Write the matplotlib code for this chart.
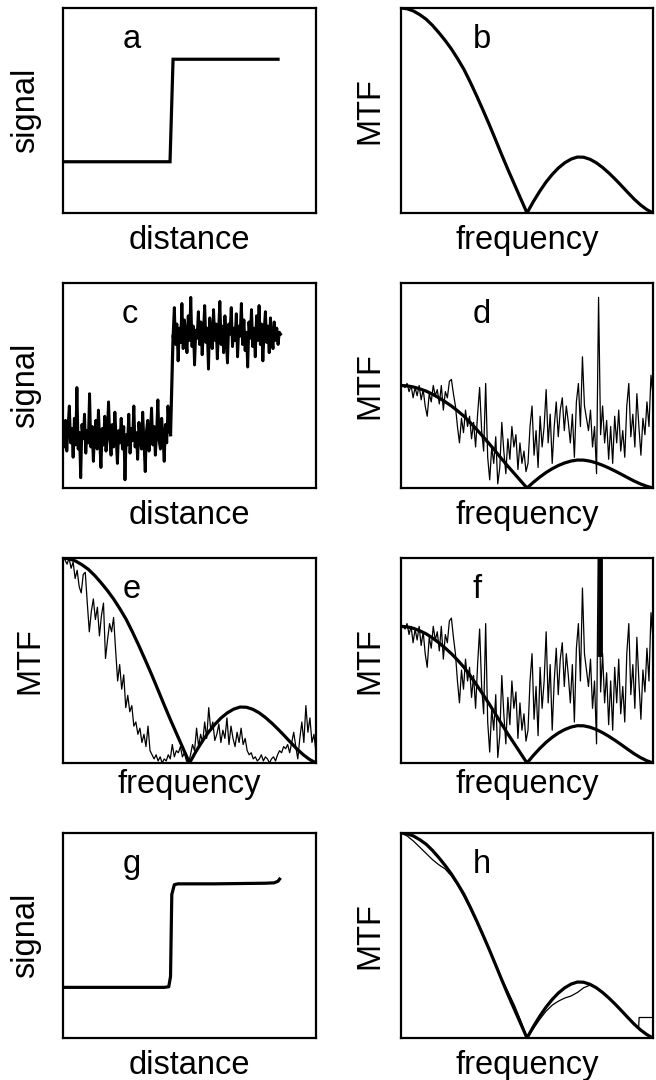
import numpy as np
import matplotlib
matplotlib.use("Agg")
import matplotlib.pyplot as plt

plt.rcParams['font.family'] = ['Liberation Sans', 'DejaVu Sans']

# ideal MTF (thick curve), read every 0.025 along frequency
freq_ideal = np.linspace(0, 1, 41)
mtf_ideal = [1.000, 0.996, 0.985, 0.967, 0.945, 0.915, 0.880, 0.842, 0.800, 0.752,
             0.700, 0.638, 0.572, 0.503, 0.432, 0.358, 0.283, 0.210, 0.140, 0.070,
             0.000, 0.055, 0.105, 0.150, 0.188, 0.220, 0.245, 0.263, 0.273, 0.272,
             0.262, 0.245, 0.222, 0.195, 0.165, 0.133, 0.100, 0.068, 0.040, 0.017,
             0.000]

# h: recovered MTF (thin curve)
freq_recovered = [0.000, 0.025, 0.050, 0.075, 0.100, 0.125, 0.150, 0.175, 0.200, 0.225,
                  0.250, 0.275, 0.300, 0.325, 0.350, 0.375, 0.400, 0.425, 0.450, 0.475,
                  0.500, 0.525, 0.550, 0.575, 0.600, 0.625, 0.650, 0.675, 0.700, 0.725,
                  0.750, 0.775, 0.800, 0.825, 0.850, 0.875, 0.900, 0.925, 0.943, 0.945,
                  1.000]
mtf_recovered = [1.000, 0.985, 0.960, 0.930, 0.900, 0.870, 0.845, 0.825, 0.790, 0.745,
                 0.690, 0.630, 0.565, 0.497, 0.430, 0.360, 0.290, 0.225, 0.160, 0.085,
                 0.000, 0.045, 0.090, 0.130, 0.160, 0.180, 0.195, 0.205, 0.222, 0.245,
                 0.258, 0.245, 0.222, 0.195, 0.165, 0.133, 0.100, 0.068, 0.048, 0.100,
                 0.100]

# a: clean edge profile
edge_x = [0.0, 0.423, 0.435, 0.85]
edge_y = [0.25, 0.25, 0.75, 0.75]

# g: restored edge profile
edge_g_x = [0.0, 0.40, 0.418, 0.425, 0.430, 0.440, 0.455, 0.60, 0.80, 0.835, 0.850, 0.856]
edge_g_y = [0.247, 0.247, 0.250, 0.30, 0.70, 0.748, 0.752, 0.752, 0.755, 0.757, 0.765, 0.775]

# c: noisy edge, low and high plateaus
noisy_low = [0.26, 0.20, 0.33, 0.18, 0.30, 0.40, 0.22, 0.29, 0.15, 0.34,
             0.21, 0.49, 0.19, 0.27, 0.05, 0.31, 0.24, 0.36, 0.17, 0.28,
             0.22, 0.46, 0.20, 0.30, 0.13, 0.27, 0.33, 0.19, 0.38, 0.23,
             0.10, 0.29, 0.21, 0.35, 0.18, 0.26, 0.42, 0.24, 0.16, 0.31,
             0.20, 0.37, 0.25, 0.12, 0.28, 0.22, 0.34, 0.19, 0.30, 0.04,
             0.26, 0.21, 0.36, 0.17, 0.29, 0.23, 0.40, 0.20, 0.27, 0.14,
             0.32, 0.24, 0.19, 0.37, 0.22, 0.08, 0.28, 0.33, 0.18, 0.26,
             0.39, 0.21, 0.30, 0.16, 0.27, 0.43, 0.23, 0.19, 0.34, 0.25,
             0.13, 0.31, 0.22, 0.40, 0.28, 0.26]
noisy_high = [0.74, 0.88, 0.70, 0.80, 0.62, 0.78, 0.71, 0.90, 0.68, 0.82,
              0.75, 0.66, 0.84, 0.72, 0.93, 0.69, 0.79, 0.60, 0.77, 0.73,
              0.86, 0.70, 0.81, 0.65, 0.76, 0.89, 0.71, 0.78, 0.58, 0.83,
              0.74, 0.68, 0.87, 0.72, 0.80, 0.63, 0.77, 0.91, 0.70, 0.79,
              0.66, 0.84, 0.73, 0.61, 0.80, 0.75, 0.88, 0.69, 0.78, 0.72,
              0.85, 0.64, 0.79, 0.74, 0.90, 0.70, 0.82, 0.67, 0.76, 0.59,
              0.81, 0.73, 0.87, 0.69, 0.78, 0.64, 0.84, 0.72, 0.89, 0.70,
              0.80, 0.62, 0.77, 0.86, 0.71, 0.79, 0.66, 0.83, 0.74, 0.68,
              0.81, 0.72, 0.78, 0.70, 0.76, 0.75]
noisy_low_x = np.linspace(0.0, 0.425, len(noisy_low))
noisy_high_x = np.linspace(0.435, 0.86, len(noisy_high))

# d / f: MTF measured from the noisy edge
freq_noisy = np.linspace(0, 1, 126)
mtf_noisy = [1.00, 1.00, 0.98, 1.02, 0.94, 1.00, 0.88, 0.98, 0.90, 1.00,
             0.86, 0.96, 0.80, 0.70, 0.92, 0.84, 1.00, 0.90, 0.96, 0.82,
             1.00, 0.76, 0.94, 0.88, 1.04, 1.06, 0.92, 0.80, 0.60, 0.44,
             0.68, 0.54, 0.76, 0.60, 0.70, 0.48, 0.64, 0.40, 0.72, 0.98,
             0.56, 0.36, 1.02, 0.30, 0.08, 0.40, 0.24, 0.50, 0.04, 0.20,
             0.64, 0.36, 0.14, 0.48, 0.28, 0.60, 0.40, 0.52, 0.18, 0.44,
             0.24, 0.36, 0.16, 0.24, 0.60, 0.80, 0.32, 0.56, 0.20, 0.70,
             0.40, 0.60, 0.96, 0.44, 0.72, 0.24, 0.60, 0.84, 0.50, 0.76,
             0.88, 0.56, 0.80, 0.64, 0.44, 0.72, 0.30, 0.84, 1.02, 0.60,
             1.28, 0.80, 0.68, 0.56, 0.76, 0.40, 0.60, 0.14, 1.86, 0.52,
             0.80, 0.44, 0.66, 0.28, 0.60, 0.24, 0.70, 0.44, 0.76, 0.36,
             0.56, 0.30, 0.80, 1.02, 0.50, 0.72, 0.40, 0.92, 0.60, 0.32,
             0.68, 0.52, 0.84, 0.60, 1.10, 0.90]
spike_f_x = [0.788, 0.788]
spike_f_y = [0.80, 1.90]

# e: MTF after smoothing
mtf_smoothed = [1.00, 0.99, 0.97, 1.00, 0.95, 0.98, 0.90, 0.94, 0.86, 0.83,
                0.92, 0.93, 0.78, 0.64, 0.74, 0.80, 0.70, 0.76, 0.62, 0.72,
                0.78, 0.51, 0.60, 0.68, 0.64, 0.71, 0.55, 0.40, 0.48, 0.36,
                0.43, 0.27, 0.33, 0.25, 0.28, 0.18, 0.20, 0.14, 0.17, 0.10,
                0.14, 0.08, 0.18, 0.06, 0.04, 0.02, 0.04, 0.01, 0.03, 0.00,
                0.02, 0.01, 0.04, 0.02, 0.09, 0.03, 0.06, 0.05, 0.08, 0.03,
                0.05, 0.01, 0.00, 0.04, 0.09, 0.06, 0.17, 0.08, 0.14, 0.10,
                0.20, 0.12, 0.27, 0.16, 0.20, 0.11, 0.14, 0.19, 0.10, 0.16,
                0.12, 0.22, 0.09, 0.18, 0.12, 0.08, 0.15, 0.10, 0.17, 0.09,
                0.12, 0.06, 0.04, 0.05, 0.02, 0.03, 0.01, 0.02, 0.04, 0.01,
                0.03, 0.02, 0.00, 0.02, 0.03, 0.01, 0.04, 0.06, 0.05, 0.08,
                0.07, 0.09, 0.05, 0.10, 0.15, 0.08, 0.02, 0.12, 0.20, 0.10,
                0.28, 0.15, 0.22, 0.10, 0.14, 0.05]

W, H = 656, 1080
FS = 23.5
THICK = 2.3
THIN = 0.9

fig = plt.figure(figsize=(W / 100, H / 100), dpi=100)


def make_axes(col, row):
    left = 63 if col == 0 else 401
    width = 253 if col == 0 else 252
    top = 8 + 275 * row
    height = 205
    ax = fig.add_axes([left / W, 1 - (top + height) / H, width / W, height / H])
    ax.set_xlim(0, 1)
    ax.set_ylim(0, 1)
    ax.set_xticks([])
    ax.set_yticks([])
    for s in ax.spines.values():
        s.set_linewidth(1.6)
    return ax


def decorate(ax, letter, xlab, ylab, lx, ylab_off, xlab_off=36):
    ax.text(lx, 0.805, letter, transform=ax.transAxes, fontsize=FS,
            ha='center', va='baseline')
    ax.text(0.5, -xlab_off / 205, xlab, transform=ax.transAxes, fontsize=FS,
            ha='center', va='baseline')
    ax.text(-ylab_off, 0.5, ylab, transform=ax.transAxes, fontsize=FS,
            ha='center', va='center', rotation=90)


# a
ax = make_axes(0, 0)
ax.plot(edge_x, edge_y, color='black', lw=THICK, solid_joinstyle='miter')
decorate(ax, 'a', 'distance', 'signal', 0.27, 37 / 253)

# b
ax = make_axes(1, 0)
ax.plot(freq_ideal, mtf_ideal, color='black', lw=THICK)
decorate(ax, 'b', 'frequency', 'MTF', 0.32, 31 / 252)

# c
ax = make_axes(0, 1)
ax.plot(noisy_low_x, noisy_low, color='black', lw=2.1)
ax.plot([0.425, 0.43, 0.435], [noisy_low[-1], 0.5, noisy_high[0]], color='black', lw=THICK)
ax.plot(noisy_high_x, noisy_high, color='black', lw=2.1)
decorate(ax, 'c', 'distance', 'signal', 0.265, 37 / 253)

# d
ax = make_axes(1, 1)
ax.set_ylim(0, 2)
ax.plot(freq_noisy, mtf_noisy, color='black', lw=THIN)
ax.plot(freq_ideal, mtf_ideal, color='black', lw=THICK)
decorate(ax, 'd', 'frequency', 'MTF', 0.32, 31 / 252)

# e
ax = make_axes(0, 2)
ax.plot(freq_noisy, mtf_smoothed, color='black', lw=THIN)
ax.plot(freq_ideal, mtf_ideal, color='black', lw=THICK)
decorate(ax, 'e', 'frequency', 'MTF', 0.27, 33 / 253, xlab_off=30)

# f
ax = make_axes(1, 2)
ax.set_ylim(0, 1.5)
ax.plot(freq_noisy, mtf_noisy, color='black', lw=THIN)
ax.plot(spike_f_x, spike_f_y, color='black', lw=3.5)
ax.plot(freq_ideal, mtf_ideal, color='black', lw=THICK)
decorate(ax, 'f', 'frequency', 'MTF', 0.30, 31 / 252, xlab_off=30)

# g
ax = make_axes(0, 3)
ax.plot(edge_g_x, edge_g_y, color='black', lw=THICK)
decorate(ax, 'g', 'distance', 'signal', 0.27, 37 / 253)

# h
ax = make_axes(1, 3)
ax.plot(freq_recovered, mtf_recovered, color='black', lw=THIN)
ax.plot(freq_ideal, mtf_ideal, color='black', lw=THICK)
decorate(ax, 'h', 'frequency', 'MTF', 0.32, 31 / 252)

fig.savefig('out.png', dpi=100)
